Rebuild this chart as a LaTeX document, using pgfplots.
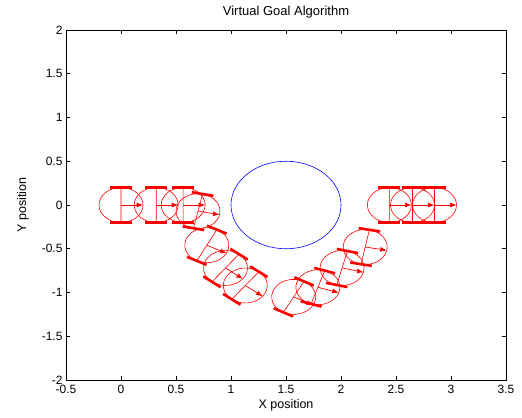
\documentclass[border=0pt]{standalone}
\usepackage{fontspec}
\setmainfont{Liberation Sans}
\usepackage{pgfplots}
\pgfplotsset{compat=1.18}
\usetikzlibrary{arrows.meta}

% data-unit lengths in pt (axis 440bp x 350bp for 4 x 4 units)
\newcommand{\ux}{110.4125}
\newcommand{\uy}{87.828}
\def\rth{0}

\pgfdeclareplotmark{obst}{%
  \pgfscope
  \pgfsetstrokecolor{blue}%
  \pgftransformcm{\ux}{0}{0}{\uy}{\pgfpointorigin}%
  \pgfpathcircle{\pgfpointorigin}{0.5pt}%
  \pgfusepathqstroke
  \endpgfscope}

\pgfdeclareplotmark{robot}{%
  \pgfscope
  \pgfsetstrokecolor{red}\pgfsetfillcolor{red}%
  \pgftransformcm{\ux}{0}{0}{\uy}{\pgfpointorigin}%
  \pgftransformrotate{\rth}%
  \pgfsetlinewidth{0.6bp}%
  \pgfpathcircle{\pgfpointorigin}{0.2pt}%
  \pgfpathmoveto{\pgfpoint{0pt}{0.2pt}}\pgfpathlineto{\pgfpoint{0pt}{-0.2pt}}%
  \pgfusepathqstroke
  \pgfsetlinewidth{2.6bp}%
  \pgfpathmoveto{\pgfpoint{-0.1pt}{0.2pt}}\pgfpathlineto{\pgfpoint{0.1pt}{0.2pt}}%
  \pgfpathmoveto{\pgfpoint{-0.1pt}{-0.2pt}}\pgfpathlineto{\pgfpoint{0.1pt}{-0.2pt}}%
  \pgfusepathqstroke
  \pgfsetlinewidth{0.7bp}%
  \pgfsetarrows{-{Latex[length=6.5bp,width=5bp]}}%
  \pgfpathmoveto{\pgfpointorigin}\pgfpathlineto{\pgfpoint{0.2pt}{0pt}}%
  \pgfusepath{stroke}%
  \endpgfscope}

\begin{document}
\begin{tikzpicture}
\begin{axis}[
  scale only axis,
  width=440bp, height=350bp,
  xmin=-0.5, xmax=3.5, ymin=-2, ymax=2,
  xtick={-0.5,0,0.5,1,1.5,2,2.5,3,3.5},
  xticklabels={-0.5,0,0.5,1,1.5,2,2.5,3,3.5},
  ytick={-2,-1.5,-1,-0.5,0,0.5,1,1.5,2},
  yticklabels={-2,-1.5,-1,-0.5,0,0.5,1,1.5,2},
  tick align=inside,
  major tick length=4.4bp,
  axis line style={line width=0.6bp},
  every tick/.style={black, line width=0.6bp},
  tick label style={font=\fontsize{12bp}{14bp}\selectfont},
  xticklabel style={yshift=-2bp},
  title={Virtual Goal Algorithm},
  title style={font=\fontsize{13bp}{15bp}\selectfont, yshift=2bp},
  xlabel={X position},
  ylabel={Y position},
  label style={font=\fontsize{12.5bp}{15bp}\selectfont},
  xlabel style={at={(axis description cs:0.5,-0.0714)}, anchor=center},
  ylabel style={at={(axis description cs:-0.098,0.5)}, anchor=center},
  clip=false,
]
\addplot[blue, line width=0.6bp, only marks, mark=obst] table {
x   y
1.5 0
};
\addplot[red, fill=red, only marks, mark=robot, scatter,
  visualization depends on={\thisrow{th} \as \rth},
  scatter/@pre marker code/.code={\pgfscope},
  scatter/@post marker code/.code={\endpgfscope},
] table {
x     y      th
0     0      0
0.32  0      0
0.565 0      0
0.70  -0.07  -12
0.78  -0.46  -27
0.95  -0.72  -38
1.13  -0.92  -38
1.57  -1.05  -28
1.79  -0.94  -18
2.01  -0.72  -14
2.22  -0.48  -11
2.44  0      0
2.65  0      0
2.85  0      0
};
\end{axis}
\path (current axis.south west) ++(-66bp,-37bp) rectangle ([shift={(16bp,30bp)}]current axis.north east);
\end{tikzpicture}
\end{document}
